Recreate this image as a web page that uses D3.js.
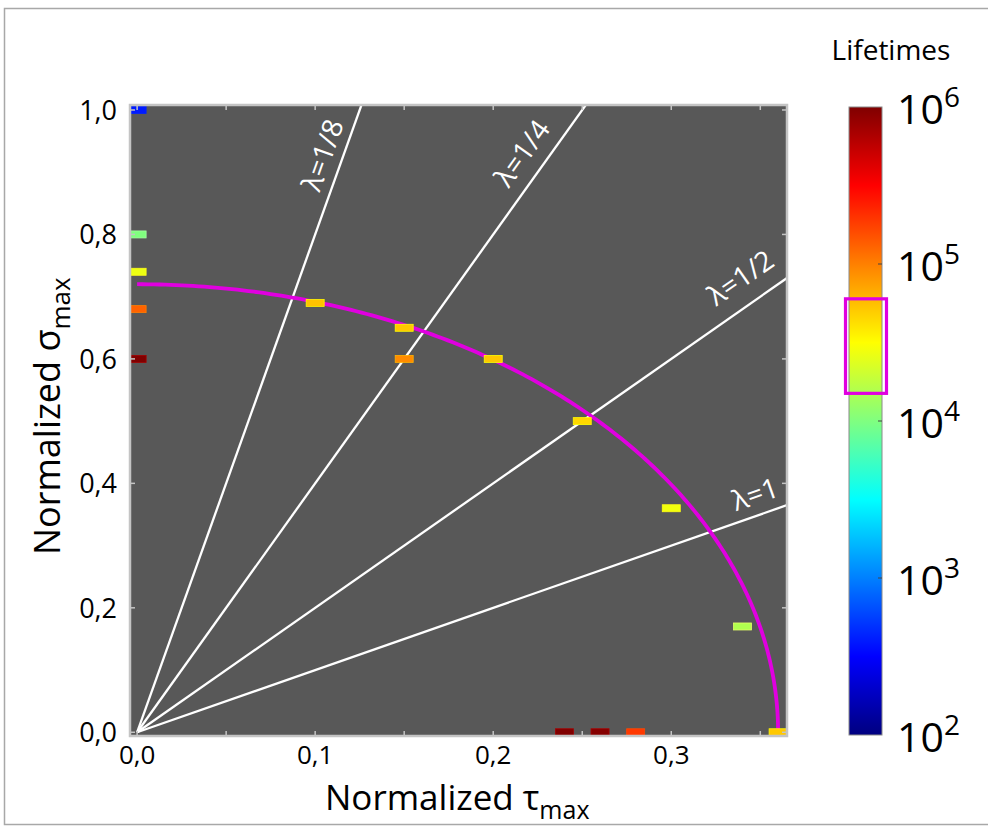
<!DOCTYPE html>
<html>
<head>
<meta charset="utf-8">
<script src="https://cdn.jsdelivr.net/npm/d3@7"></script>
<style>
  html, body { margin: 0; padding: 0; background: #ffffff; }
  svg { display: block; }
  text { font-family: "Open Sans", "Liberation Sans", sans-serif; }
</style>
</head>
<body>
<svg id="chart" width="988" height="826"></svg>
<script>
// ---------------- data ----------------
const tau      = [0.00, 0.00, 0.00, 0.00, 0.00, 0.10, 0.15, 0.15, 0.20, 0.25, 0.30, 0.34, 0.36, 0.24, 0.26, 0.28];
const sigma    = [1.00, 0.80, 0.74, 0.68, 0.60, 0.69, 0.65, 0.60, 0.60, 0.50, 0.36, 0.17, 0.00, 0.00, 0.00, 0.00];
const lifetime = [400, 1.0e4, 2.7e4, 1.3e5, 1.0e6, 5.5e4, 5.2e4, 9.0e4, 5.2e4, 4.5e4, 2.8e4, 1.55e4, 5.2e4, 1.0e6, 9.5e5, 1.9e5];

const lambdas      = [1/8, 1/4, 1/2, 1];
const lambdaLabels = ["λ=1/8", "λ=1/4", "λ=1/2", "λ=1"];

const ellipseTau   = 0.36;   // criterion ellipse intercept on τ axis
const ellipseSigma = 0.72;   // criterion ellipse intercept on σ axis

const xTickLabels = [0.0, 0.1, 0.2, 0.3];
const yTickLabels = [0.0, 0.2, 0.4, 0.6, 0.8, 1.0];
const cbarTicks   = [1e2, 1e3, 1e4, 1e5, 1e6];
const highlightRange = [1.5e4, 6.0e4];

// ---------------- layout ----------------
const svg = d3.select("#chart");
const plot = { left: 130, right: 787, top: 105, bottom: 736 };
const x = d3.scaleLinear().domain([-0.004, 0.365]).range([plot.left, plot.right]);
const y = d3.scaleLinear().domain([-0.006, 1.008]).range([plot.bottom, plot.top]);

function jet(t) {
  const c = v => Math.max(0, Math.min(1, v));
  const r = c(1.5 - Math.abs(4 * t - 3));
  const g = c(1.5 - Math.abs(4 * t - 2));
  const b = c(1.5 - Math.abs(4 * t - 1));
  return d3.rgb(r * 255, g * 255, b * 255).formatHex();
}
const tScale = d3.scaleLog().domain([1e2, 1e6]).range([0, 1]).clamp(true);
const color = v => jet(tScale(v));

// outer frame
svg.append("rect").attr("x", 4.5).attr("y", 8.5).attr("width", 995).attr("height", 816)
  .attr("fill", "none").attr("stroke", "#a8a8a8").attr("stroke-width", 1.5);

const defs = svg.append("defs");
defs.append("clipPath").attr("id", "plotClip").append("rect")
  .attr("x", plot.left).attr("y", plot.top)
  .attr("width", plot.right - plot.left).attr("height", plot.bottom - plot.top);

// background
svg.append("rect").attr("x", plot.left).attr("y", plot.top)
  .attr("width", plot.right - plot.left).attr("height", plot.bottom - plot.top)
  .attr("fill", "#585858");

const g = svg.append("g").attr("clip-path", "url(#plotClip)");

// lambda lines
const tauEnd = x.domain()[1];
g.selectAll("line.lam").data(lambdas).join("line")
  .attr("class", "lam")
  .attr("x1", x(0)).attr("y1", y(0))
  .attr("x2", d => x(tauEnd)).attr("y2", d => y(tauEnd / d))
  .attr("stroke", "#ffffff").attr("stroke-width", 2.3);

// ellipse
const angles = d3.range(0, 90.5, 0.5).map(a => a * Math.PI / 180);
const ell = d3.line()
  .x(a => x(ellipseTau * Math.sin(a)))
  .y(a => y(ellipseSigma * Math.cos(a)));
g.append("path").datum(angles).attr("d", ell)
  .attr("fill", "none").attr("stroke", "#e000e0").attr("stroke-width", 3.8);

// points
const pts = tau.map((t, i) => ({ t, s: sigma[i], L: lifetime[i] }));
const rw = 18, rh = 7;
g.selectAll("rect.pt").data(pts).join("rect")
  .attr("class", "pt")
  .attr("x", d => x(d.t) - rw / 2).attr("y", d => y(d.s) - rh / 2)
  .attr("width", rw).attr("height", rh)
  .attr("fill", d => color(d.L))
  .attr("stroke", d => d3.color(color(d.L)).brighter(0.7).formatHex())
  .attr("stroke-width", 0.8);

// lambda labels (placed along each line, offset to its upper-left side)
const labelPos = [ { along: 606, off: 21 }, { along: 695, off: 25 }, { along: 755, off: 28 }, { along: 662, off: 22 } ];
svg.selectAll("text.lam").data(lambdas).join("text")
  .attr("class", "lam")
  .each(function (d, i) {
    const x0 = x(0), y0 = y(0);
    const dx = x(1) - x(0), dy = y(1 / d) - y(0);
    const len = Math.hypot(dx, dy);
    const ux = dx / len, uy = dy / len;   // direction along line (pixels)
    const nx = uy, ny = -ux;              // normal pointing up-left
    const p = labelPos[i];
    const cx = x0 + ux * p.along + nx * p.off;
    const cy = y0 + uy * p.along + ny * p.off;
    const ang = Math.atan2(dy, dx) * 180 / Math.PI;
    d3.select(this)
      .attr("transform", `translate(${cx},${cy}) rotate(${ang})`)
      .attr("text-anchor", "middle").attr("dominant-baseline", "central")
      .attr("fill", "#ffffff").attr("font-size", 28)
      .text(lambdaLabels[i]);
  });

// frame and ticks
svg.append("rect").attr("x", plot.left).attr("y", plot.top)
  .attr("width", plot.right - plot.left).attr("height", plot.bottom - plot.top)
  .attr("fill", "none").attr("stroke", "#c4c4c4").attr("stroke-width", 2.5);

const fmt = v => d3.format(".1f")(v).replace(".", ",");
const tk = 5;
const xMinor = d3.range(0, 0.351, 0.05);
const tickG = svg.append("g").attr("stroke", "#c4c4c4").attr("stroke-width", 1.5);
xMinor.forEach(v => {
  tickG.append("line").attr("x1", x(v)).attr("x2", x(v)).attr("y1", plot.bottom).attr("y2", plot.bottom - tk);
  tickG.append("line").attr("x1", x(v)).attr("x2", x(v)).attr("y1", plot.top).attr("y2", plot.top + tk);
});
yTickLabels.forEach(v => {
  tickG.append("line").attr("y1", y(v)).attr("y2", y(v)).attr("x1", plot.left).attr("x2", plot.left + tk);
  tickG.append("line").attr("y1", y(v)).attr("y2", y(v)).attr("x1", plot.right).attr("x2", plot.right - tk);
});

svg.selectAll("text.xt").data(xTickLabels).join("text")
  .attr("class", "xt").attr("x", d => x(d)).attr("y", 764)
  .attr("text-anchor", "middle").attr("font-size", 26).attr("fill", "#000")
  .text(fmt);
svg.selectAll("text.yt").data(yTickLabels).join("text")
  .attr("class", "yt").attr("x", 117).attr("y", d => y(d) + 10)
  .attr("text-anchor", "end").attr("font-size", 27).attr("fill", "#000")
  .text(fmt);

// axis titles
const xt = svg.append("text").attr("x", 325).attr("y", 810).attr("font-size", 35).attr("fill", "#000");
xt.append("tspan").text("Normalized τ");
xt.append("tspan").attr("font-size", 25).attr("dy", 9).text("max");

const yt = svg.append("text").attr("transform", "translate(60,555) rotate(-90)")
  .attr("font-size", 36).attr("fill", "#000");
yt.append("tspan").text("Normalized σ");
yt.append("tspan").attr("font-size", 26).attr("dy", 10).text("max");

// colorbar
const cb = { x: 849, w: 33, top: 107, bottom: 735 };
const cy = d3.scaleLog().domain([1e2, 1e6]).range([cb.bottom, cb.top]);
const grad = defs.append("linearGradient").attr("id", "jetGrad")
  .attr("x1", 0).attr("y1", 1).attr("x2", 0).attr("y2", 0);
d3.range(0, 1.0001, 0.025).forEach(t => {
  grad.append("stop").attr("offset", t).attr("stop-color", jet(t));
});
svg.append("rect").attr("x", cb.x).attr("y", cb.top).attr("width", cb.w).attr("height", cb.bottom - cb.top)
  .attr("fill", "url(#jetGrad)").attr("stroke", "#8a8a8a").attr("stroke-width", 1);
cbarTicks.slice(1, -1).forEach(v => {
  svg.append("line").attr("x1", cb.x + cb.w).attr("x2", cb.x + cb.w - 4)
    .attr("y1", cy(v)).attr("y2", cy(v)).attr("stroke", "#444").attr("stroke-width", 1);
});
svg.selectAll("text.cb").data(cbarTicks).join("text")
  .attr("class", "cb").attr("x", 897).attr("y", d => cy(d) + 17)
  .attr("font-size", 41).attr("fill", "#000")
  .each(function (d) {
    const t = d3.select(this);
    t.append("tspan").text("10");
    t.append("tspan").attr("font-size", 28).attr("dy", -17).text(Math.round(Math.log10(d)));
  });
svg.append("text").attr("x", 891).attr("y", 60).attr("text-anchor", "middle")
  .attr("font-size", 28).attr("fill", "#000").text("Lifetimes");

// highlight box
svg.append("rect").attr("x", 845.5).attr("y", cy(highlightRange[1]))
  .attr("width", 41).attr("height", cy(highlightRange[0]) - cy(highlightRange[1]))
  .attr("fill", "none").attr("stroke", "#e000e0").attr("stroke-width", 3.2);
</script>
</body>
</html>
